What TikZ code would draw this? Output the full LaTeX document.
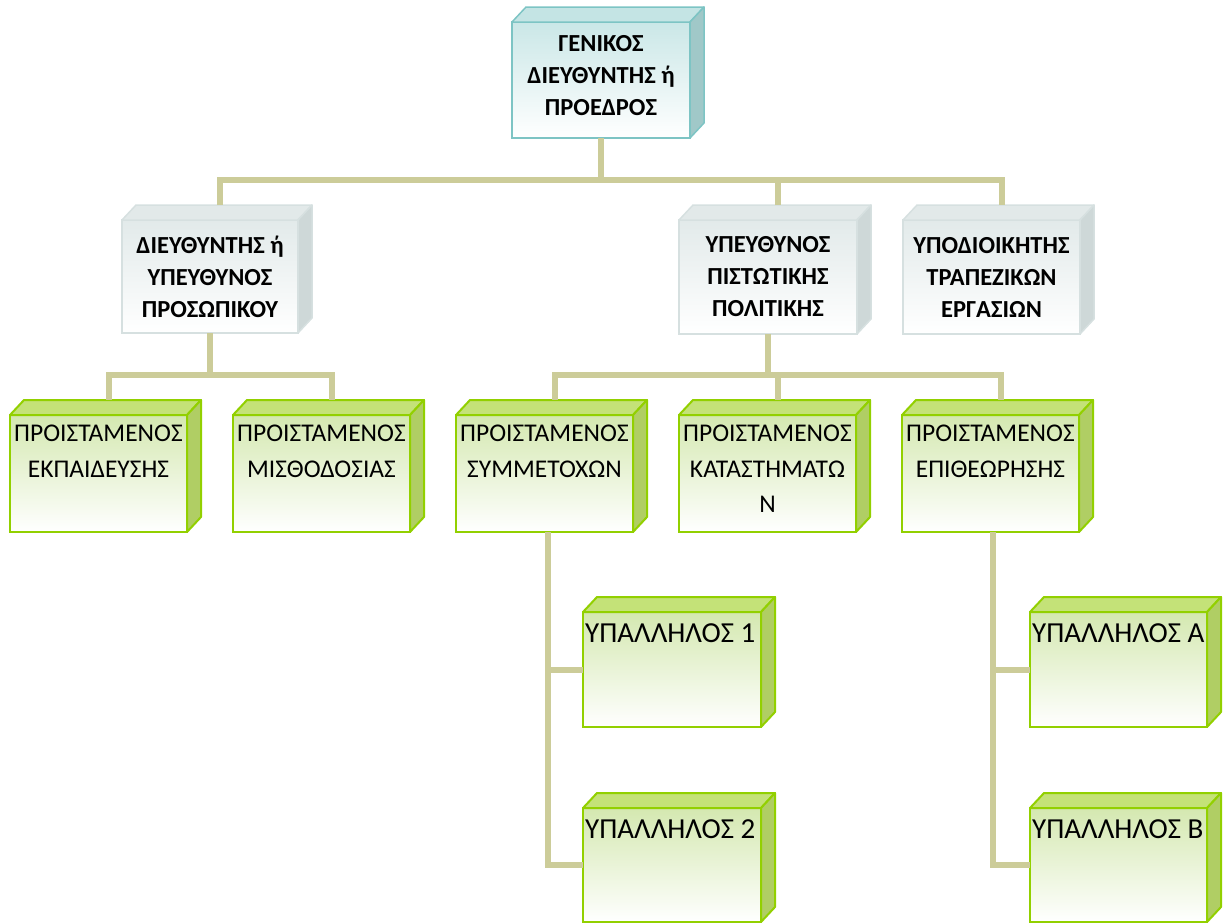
\documentclass[tikz,border=0pt]{standalone}
\usepackage{fontspec}
\setmainfont{Carlito}
\usetikzlibrary{calc}
\definecolor{cconn}{RGB}{204,204,153}
\definecolor{c-g-border}{RGB}{146,208,0}
\definecolor{c-g-top}{RGB}{196,226,120}
\definecolor{c-g-side}{RGB}{176,206,100}
\definecolor{c-g-front}{RGB}{212,232,176}
\definecolor{c-s-border}{RGB}{214,224,224}
\definecolor{c-s-top}{RGB}{226,233,233}
\definecolor{c-s-side}{RGB}{206,216,216}
\definecolor{c-s-front}{RGB}{226,234,234}
\definecolor{c-r-border}{RGB}{125,196,196}
\definecolor{c-r-top}{RGB}{196,228,228}
\definecolor{c-r-side}{RGB}{160,200,200}
\definecolor{c-r-front}{RGB}{202,231,231}
\tikzset{
  frontg/.style={draw=c-g-border, line width=2pt, top color=c-g-front, bottom color=white, inner sep=0pt, outer sep=0pt},
  faceg/.style={draw=c-g-border, line width=2pt, line join=round},
  fronts/.style={draw=c-s-border, line width=1.5pt, top color=c-s-front, bottom color=white, inner sep=0pt, outer sep=0pt},
  faces/.style={draw=c-s-border, line width=1.5pt, line join=round},
  frontr/.style={draw=c-r-border, line width=1.5pt, top color=c-r-front, bottom color=white, inner sep=0pt, outer sep=0pt},
  facer/.style={draw=c-r-border, line width=1.5pt, line join=round},
  conn/.style={draw=cconn, line width=6pt, line cap=butt, line join=miter},
  stext/.style={align=center, font=\bfseries\fontsize{24.5}{32}\selectfont, inner sep=0pt},
  gtext/.style={align=center, font=\fontsize{25.5}{35.5}\selectfont, inner sep=0pt, anchor=north},
  ytext/.style={align=left, font=\fontsize{29}{35}\selectfont, inner sep=0pt, anchor=north west},
}
% #1 name, #2 cx, #3 cy, #4 w, #5 h, #6 kind (g, s, r)
\newcommand{\mycube}[6]{%
  \node[front#6, minimum width=#4pt, minimum height=#5pt] (#1) at (#2,#3) {};
  \filldraw[face#6, fill=c-#6-top] (#1.north west) -- ++(14,-15) -- ($(#1.north east)+(14,-15)$) -- (#1.north east) -- cycle;
  \filldraw[face#6, fill=c-#6-side] (#1.north east) -- ++(14,-15) -- ($(#1.south east)+(14,-15)$) -- (#1.south east) -- cycle;
  \coordinate (#1-top) at ($(#1.north)+(10,-15)$);
}
\begin{document}
\begin{tikzpicture}[x=1pt,y=-1pt]
\useasboundingbox (0,0) rectangle (1227,922);
\coordinate (bus1) at (0,180);
\coordinate (bus2) at (0,375);

% boxes
\mycube{root}{601}{80}{178}{116}{r}
\mycube{a}{210}{276.5}{176}{113}{s}
\mycube{b}{768}{277}{178}{114}{s}
\mycube{c}{991.5}{277}{177}{114}{s}
\mycube{ekp}{98.5}{473.5}{177}{117}{g}
\mycube{mis}{321.5}{473.5}{177}{117}{g}
\mycube{sym}{544.5}{473.5}{177}{117}{g}
\mycube{kat}{767.5}{473.5}{177}{117}{g}
\mycube{epi}{990.5}{473.5}{177}{117}{g}
\mycube{y1}{672}{669.5}{178}{115}{g}
\mycube{y2}{672}{865}{178}{114}{g}
\mycube{ya}{1118.5}{669.5}{177}{115}{g}
\mycube{yb}{1118.5}{865}{177}{114}{g}

% texts
\node[stext] (root-t) at ([yshift=4pt]root) {ΓΕΝΙΚΟΣ\\ΔΙΕΥΘΥΝΤΗΣ ή\\ΠΡΟΕΔΡΟΣ};
\node[stext] (a-t) at (a) {ΔΙΕΥΘΥΝΤΗΣ ή\\ΥΠΕΥΘΥΝΟΣ\\ΠΡΟΣΩΠΙΚΟΥ};
\node[stext] (b-t) at (b) {ΥΠΕΥΘΥΝΟΣ\\ΠΙΣΤΩΤΙΚΗΣ\\ΠΟΛΙΤΙΚΗΣ};
\node[stext] (c-t) at (c) {ΥΠΟΔΙΟΙΚΗΤΗΣ\\ΤΡΑΠΕΖΙΚΩΝ\\ΕΡΓΑΣΙΩΝ};
\node[gtext] (ekp-t) at ([yshift=-10pt]ekp.north) {ΠΡΟΙΣΤΑΜΕΝΟΣ\\ΕΚΠΑΙΔΕΥΣΗΣ};
\node[gtext] (mis-t) at ([yshift=-10pt]mis.north) {ΠΡΟΙΣΤΑΜΕΝΟΣ\\ΜΙΣΘΟΔΟΣΙΑΣ};
\node[gtext] (sym-t) at ([yshift=-10pt]sym.north) {ΠΡΟΙΣΤΑΜΕΝΟΣ\\ΣΥΜΜΕΤΟΧΩΝ};
\node[gtext] (kat-t) at ([yshift=-10pt]kat.north) {ΠΡΟΙΣΤΑΜΕΝΟΣ\\ΚΑΤΑΣΤΗΜΑΤΩ\\Ν};
\node[gtext] (epi-t) at ([yshift=-10pt]epi.north) {ΠΡΟΙΣΤΑΜΕΝΟΣ\\ΕΠΙΘΕΩΡΗΣΗΣ};
\node[ytext] (y1-t) at ([shift={(2pt,-11pt)}]y1.north west) {ΥΠΑΛΛΗΛΟΣ 1};
\node[ytext] (y2-t) at ([shift={(2pt,-11pt)}]y2.north west) {ΥΠΑΛΛΗΛΟΣ 2};
\node[ytext] (ya-t) at ([shift={(2pt,-11pt)}]ya.north west) {ΥΠΑΛΛΗΛΟΣ Α};
\node[ytext] (yb-t) at ([shift={(2pt,-11pt)}]yb.north west) {ΥΠΑΛΛΗΛΟΣ Β};

% connectors
\draw[conn] (root.south) -- (root.south |- bus1);
\draw[conn] (a-top) |- (c-top |- bus1) -- (c-top);
\draw[conn] (b-top) -- (b-top |- bus1);
\draw[conn] (a.south) -- (a.south |- bus2);
\draw[conn] (ekp-top) |- (mis-top |- bus2) -- (mis-top);
\draw[conn] (b.south) -- (b.south |- bus2);
\draw[conn] (sym-top) |- (epi-top |- bus2) -- (epi-top);
\draw[conn] (kat-top) -- (kat-top |- bus2);
\draw[conn] ([xshift=3pt]sym.south) |- (y2.west);
\draw[conn] ([xshift=3pt]sym.south |- y1.west) -- (y1.west);
\draw[conn] ([xshift=2pt]epi.south) |- (yb.west);
\draw[conn] ([xshift=2pt]epi.south |- ya.west) -- (ya.west);
\end{tikzpicture}
\end{document}
